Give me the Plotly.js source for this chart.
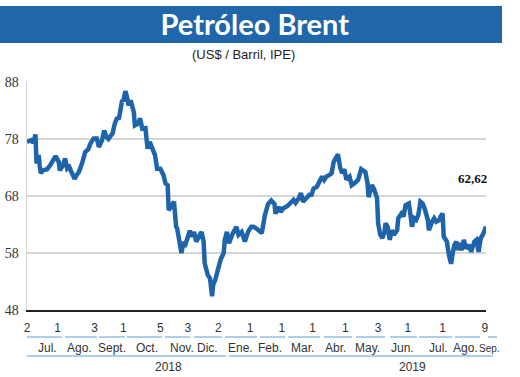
<!DOCTYPE html>
<html>
<head>
<meta charset="utf-8">
<script src="https://cdn.plot.ly/plotly-3.0.1.min.js"></script>
<style>html,body{margin:0;padding:0;background:#fff;}#chart{width:520px;height:377px;}</style>
</head>
<body>
<div id="chart"></div>
<script>
// ---- Data (x = days since 2 Jul 2018) ----
const days = [0,4,6,8,9,11,12,13,15,19,22,25,27,30,31,34,36,38,40,42,45,47,49,52,53,55,58,60,63,66,68,71,73,75,77,79,81,83,85,87,90,91,93,95,96,98,101,102,105,107,109,112,114,116,118,121,123,126,129,131,133,134,137,139,141,142,146,148,149,152,154,156,158,160,163,165,167,168,171,173,175,176,178,180,183,186,187,189,191,194,196,198,200,203,206,209,212,214,217,219,222,225,228,231,234,235,238,240,242,246,249,252,254,257,259,261,264,267,269,271,274,276,279,281,283,286,288,290,293,294,296,298,300,302,305,307,310,313,316,320,322,323,326,328,331,332,334,336,338,339,341,343,345,347,350,351,354,356,358,361,362,364,366,368,370,372,374,376,379,380,383,385,387,390,391,393,394,397,399,401,402,404,406,407,408,411,413,415,418,420,423,425,427,429,431,434];
const prices = [77.5,77.8,77.3,78.8,73.7,75.2,73.4,72.0,72.5,72.7,73.4,74.6,75.0,74.0,72.5,73.4,74.6,72.8,73.1,72.2,71.0,71.7,72.2,73.7,74.6,75.7,76.2,77.2,78.1,78.1,76.6,77.8,79.5,78.4,78.0,78.4,79.0,80.7,81.6,81.7,84.8,84.6,86.4,85.0,83.9,84.8,82.7,80.4,80.7,81.6,79.8,79.9,76.3,77.5,76.6,75.2,72.8,72.8,71.7,70.2,69.9,65.5,66.4,67.0,62.6,62.3,58.0,60.0,59.1,60.6,61.9,60.9,61.7,60.0,61.3,61.7,60.0,56.2,54.1,53.6,50.4,52.4,53.3,54.7,56.8,58.0,60.3,61.7,59.7,61.2,62.0,62.6,61.2,61.7,60.0,61.7,62.6,62.6,62.3,62.0,61.5,64.7,66.6,67.2,66.6,64.9,66.1,65.2,65.8,66.2,66.7,67.3,66.8,67.6,68.5,67.0,67.6,68.2,68.2,69.3,69.6,70.5,71.4,70.8,71.4,71.7,72.0,74.0,74.9,75.3,73.1,72.0,72.7,70.9,71.4,69.9,70.3,70.8,72.7,72.2,70.2,67.8,69.9,69.3,67.6,63.2,61.2,60.6,61.7,63.2,62.6,60.3,62.0,61.2,62.0,64.1,64.9,64.4,66.4,66.7,65.5,62.6,64.1,63.8,64.7,67.0,66.7,65.8,63.8,62.0,63.5,64.1,63.5,63.8,64.4,64.9,60.9,60.0,57.6,56.1,57.4,59.4,60.0,58.5,59.7,58.5,60.3,58.8,59.4,58.2,60.0,60.3,58.2,60.6,61.2,62.62];
const lastLabel = '62,62';

const tickDays = [0,29,64,91,126,152,181,211,241,270,301,332,360,393,433];
const tickText = ['2','1','3','1','5','3','2','1','1','1','1','3','1','1','9'];
const monthLabels = ['Jul.','Ago.','Sept.','Oct.','Nov.','Dic.','Ene.','Feb.','Mar.','Abr.','May.','Jun.','Jul.','Ago.','Sep.'];
const yearLabels = ['2018','2019'];
const yTicks = [48,58,68,78,88];

// ---- Layout helpers (pixel -> paper) ----
const L = 27, R = 486, T = 82, B = 310;
const px = v => (v - L) / (R - L);
const py = v => (B - v) / (B - T);

const monthPx = [47,79,112,147,182,207,240,270,302,335,367,402,438,465,490];
const yearPx = [168,412];
const monthSeg = [[27,62],[65,97],[99,125],[127,162],[165,190],[194,222],[225,257],[260,285],[288,320],[324,352],[356,385],[390,417],[419,452],[455,480],[488,497]];
const yearSeg = [[27,226],[229,493]];

const axisFont = {family: 'Liberation Sans Narrow, Liberation Sans, sans-serif', size: 12, color: '#333'};
const segColor = '#8ec0e4';

const shapes = [
  {type:'rect', xref:'paper', yref:'paper', x0:px(0), x1:px(502), y0:py(43), y1:py(6), fillcolor:'#2066ab', line:{width:0}, layer:'below'}
];
monthSeg.forEach(s => shapes.push({type:'line', xref:'paper', yref:'paper', x0:px(s[0]), x1:px(s[1]), y0:py(337), y1:py(337), line:{color:segColor, width:1.5}}));
yearSeg.forEach(s => shapes.push({type:'line', xref:'paper', yref:'paper', x0:px(s[0]), x1:px(s[1]), y0:py(356), y1:py(356), line:{color:segColor, width:1.5}}));

const annotations = [
  {xref:'paper', yref:'paper', x:px(243), y:py(54), text:'(US$ / Barril, IPE)', showarrow:false, xanchor:'center', yanchor:'middle', font:{family:'Liberation Sans Narrow, Liberation Sans, sans-serif', size:13, color:'#222'}},
  {xref:'paper', yref:'paper', x:px(472), y:py(178), text:'<b>'+lastLabel+'</b>', showarrow:false, xanchor:'center', yanchor:'middle', font:{family:'Liberation Serif, serif', size:13, color:'#111'}}
];
monthLabels.forEach((m,i) => annotations.push({xref:'paper', yref:'paper', x:px(monthPx[i]), y:py(348), text:m, showarrow:false, xanchor:'center', yanchor:'middle', font:(i===monthLabels.length-1 ? {family:axisFont.family, size:10, color:'#333'} : axisFont)}));
yearLabels.forEach((y,i) => annotations.push({xref:'paper', yref:'paper', x:px(yearPx[i]), y:py(367), text:y, showarrow:false, xanchor:'center', yanchor:'middle', font:axisFont}));

const trace = {
  x: days, y: prices, type:'scatter', mode:'lines',
  line:{color:'#1e64aa', width:4.5, shape:'linear'},
  hoverinfo:'skip'
};

const layout = {
  width:520, height:377,
  margin:{l:L, r:520-R, t:T, b:377-B, pad:0},
  paper_bgcolor:'#fff', plot_bgcolor:'#fff',
  showlegend:false,
  title:{text:'<b>Petróleo Brent</b>', x:0.49, xref:'container', y:1-24.5/377, yref:'container', xanchor:'center', yanchor:'middle', font:{family:'Lato, sans-serif', size:29, color:'#fff'}},
  xaxis:{range:[0,434], tickvals:tickDays, ticktext:tickText, showgrid:false, zeroline:false, showline:true, linecolor:'#222', linewidth:2, ticks:'', tickfont:axisFont, ticklabelstandoff:6, fixedrange:true},
  yaxis:{range:[48,88], tickvals:yTicks, showgrid:true, gridcolor:'#d6d6d6', gridwidth:1.5, zeroline:false, showline:true, linecolor:'#d6d6d6', linewidth:1.5, ticks:'', tickfont:{family:'Liberation Serif, serif', size:14, color:'#333'}, ticklabelstandoff:4, fixedrange:true},
  shapes:shapes,
  annotations:annotations
};

Plotly.newPlot('chart', [trace], layout, {displayModeBar:false, staticPlot:true});
</script>
</body>
</html>
